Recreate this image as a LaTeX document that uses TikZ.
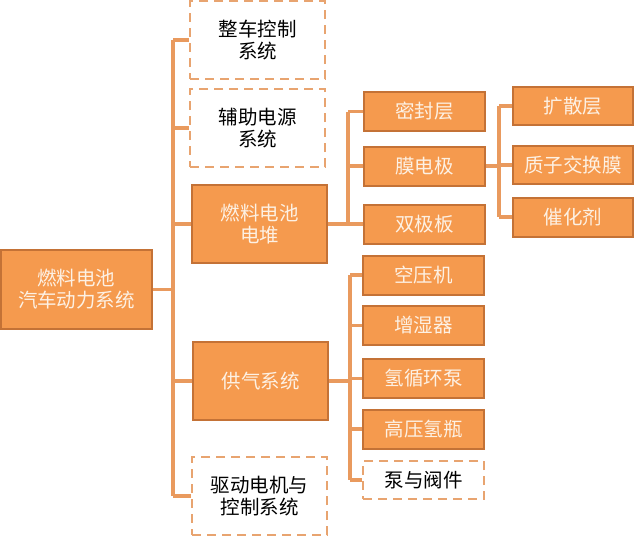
\documentclass[tikz,border=0pt]{standalone}
\usepackage{fontspec}
\usetikzlibrary{backgrounds}
\newfontfamily\cjk{Noto Sans CJK SC}
\definecolor{fillor}{HTML}{F59A4E}
\definecolor{bordor}{HTML}{C47236}
\definecolor{lineor}{HTML}{E99A5E}
\definecolor{dashor}{HTML}{E8A470}
\definecolor{txtw}{HTML}{FDF1E4}
\tikzset{
  solidbox/.style={draw=bordor, line width=2pt, fill=fillor, text=txtw, align=center, inner sep=0pt,
    font=\cjk\fontsize{19.5}{22}\selectfont},
  dashbox/.style={draw=dashor, line width=2.8pt, dash pattern=on 9pt off 6pt, fill=white, text=black, align=center, inner sep=0pt,
    font=\cjk\fontsize{19.5}{22}\selectfont},
  big/.style={minimum width=135pt, minimum height=78pt},
  small/.style={minimum width=121pt, minimum height=39pt},
  conn/.style={draw=lineor, line width=3.5pt}
}
\begin{document}
\begin{tikzpicture}[x=1pt,y=-1pt]
\useasboundingbox (0,0) rectangle (635,538);
% level 1
\node[solidbox, minimum width=151pt, minimum height=79pt] (root) at (76.5,289.5) {燃料电池\\汽车动力系统};
\node[dashbox, big] (zc) at (257.5,40) {整车控制\\系统};
\node[dashbox, big] (fz) at (257.5,128) {辅助电源\\系统};
\node[solidbox, big] (st) at (259.5,224) {燃料电池\\电堆};
\node[solidbox, big] (gq) at (260.5,381) {供气系统};
\node[dashbox, big] (qd) at (259.5,496) {驱动电机与\\控制系统};
% stack children
\node[solidbox, small] (mf) at (424.5,111.5) {密封层};
\node[solidbox, small] (md) at (424.5,166) {膜电极};
\node[solidbox, small] (sj) at (424.5,224) {双极板};
% MEA children
\node[solidbox, minimum width=120pt, minimum height=38pt] (ks) at (573,106) {扩散层};
\node[solidbox, minimum width=120pt, minimum height=38pt] (zz) at (573,165) {质子交换膜};
\node[solidbox, minimum width=120pt, minimum height=39pt] (ch) at (573,217) {催化剂};
% gas children
\node[solidbox, small] (ky) at (423.5,275) {空压机};
\node[solidbox, small] (zs) at (423.5,325.5) {增湿器};
\node[solidbox, small] (qx) at (423.5,378.5) {氢循环泵};
\node[solidbox, small] (gy) at (423.5,429) {高压氢瓶};
\node[dashbox, small, minimum height=38pt] (bf) at (423.5,480) {泵与阀件};
% bus coordinates
\coordinate (T) at (173,0);
\coordinate (S) at (348,0);
\coordinate (M) at (499,0);
\coordinate (G) at (350,0);
% connectors
\begin{scope}[on background layer]
\draw[conn] (T |- zc.west) -- (T |- qd.west);
\draw[conn] (root.east) -- (root.east -| T);
\foreach \n in {zc,fz,st,gq,qd} \draw[conn] (T |- \n.west) -- (\n.west);
\draw[conn] (S |- mf.west) -- (S |- sj.west);
\draw[conn] (st.east) -- (st.east -| S);
\foreach \n in {mf,md,sj} \draw[conn] (S |- \n.west) -- (\n.west);
\draw[conn] (M |- ks.west) -- (M |- ch.west);
\draw[conn] (md.east) -- (md.east -| M);
\foreach \n in {ks,zz,ch} \draw[conn] (M |- \n.west) -- (\n.west);
\draw[conn] (G |- ky.west) -- (G |- bf.west);
\draw[conn] (gq.east) -- (gq.east -| G);
\foreach \n in {ky,zs,qx,gy,bf} \draw[conn] (G |- \n.west) -- (\n.west);
\end{scope}
\end{tikzpicture}
\end{document}
